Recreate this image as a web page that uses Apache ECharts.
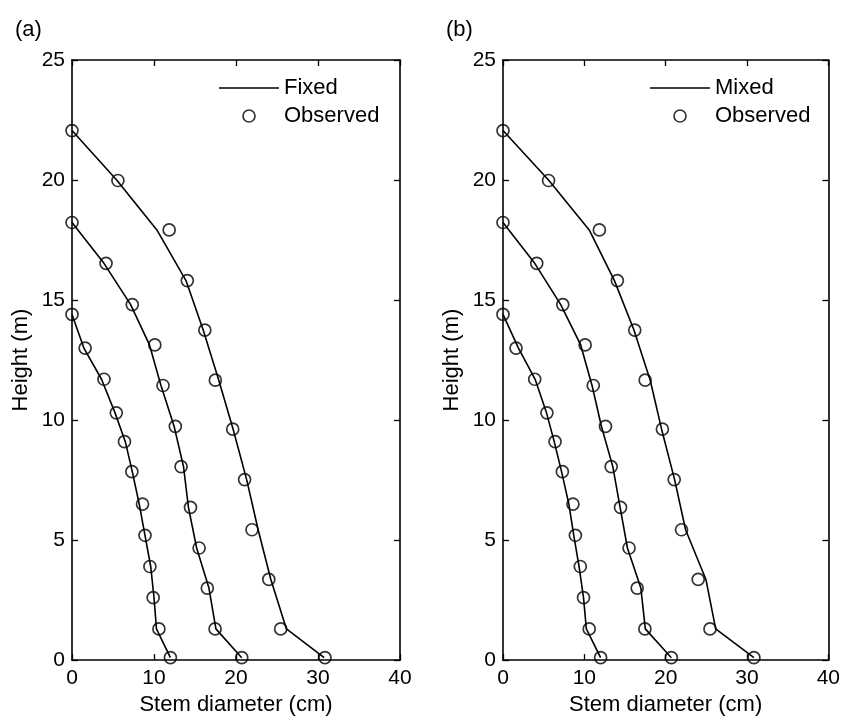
<!DOCTYPE html>
<html>
<head>
<meta charset="utf-8">
<script src="https://cdn.jsdelivr.net/npm/echarts@6/dist/echarts.min.js"></script>
<style>html,body{margin:0;padding:0;background:#fff;}#c{width:843px;height:721px;}</style>
</head>
<body>
<div id="c"></div>
<script>
// Heights (m) of measurement points for each tree
const tree1H = [0.1, 1.3, 2.6, 3.9, 5.2, 6.5, 7.85, 9.1, 10.3, 11.7, 13.0, 14.4];
const tree2H = [0.1, 1.3, 3.0, 4.67, 6.36, 8.06, 9.74, 11.44, 13.13, 14.81, 16.53, 18.23];
const tree3H = [0.1, 1.3, 3.36, 5.43, 7.52, 9.62, 11.66, 13.75, 15.81, 17.92, 19.98, 22.06];

// Observed stem diameters (cm)
const tree1Obs = [12.0, 10.6, 9.9, 9.5, 8.9, 8.6, 7.3, 6.4, 5.4, 3.9, 1.6, 0];
const tree2Obs = [20.7, 17.45, 16.5, 15.5, 14.45, 13.3, 12.6, 11.1, 10.1, 7.35, 4.15, 0];
const tree3Obs = [30.85, 25.45, 24.0, 21.95, 21.05, 19.6, 17.48, 16.2, 14.06, 11.85, 5.6, 0];

// Fixed model predictions (cm)
const tree1Fixed = [12.0, 10.3, 10.0, 9.6, 8.9, 8.2, 7.35, 6.5, 5.25, 3.6, 1.45, 0];
const tree2Fixed = [20.7, 17.55, 16.7, 15.2, 14.2, 13.6, 12.45, 10.85, 9.45, 7.15, 3.9, 0];
const tree3Fixed = [30.75, 26.15, 24.25, 22.7, 21.3, 19.65, 17.9, 16.0, 13.9, 10.35, 5.5, 0];

// Mixed model predictions (cm)
const tree1Mixed = [12.0, 10.25, 9.9, 9.35, 8.7, 8.1, 7.2, 6.3, 5.35, 3.95, 1.9, 0];
const tree2Mixed = [20.7, 17.5, 16.95, 15.3, 14.4, 13.5, 12.1, 10.95, 9.55, 7.1, 3.9, 0];
const tree3Mixed = [30.85, 26.15, 24.95, 22.45, 21.1, 19.5, 18.1, 16.1, 13.7, 10.6, 5.65, 0];

const xTicks = [0, 10, 20, 30, 40];
const yTicks = [0, 5, 10, 15, 20, 25];
const panelLabels = ['(a)', '(b)'];
const modelNames = ['Fixed', 'Mixed'];
const xName = 'Stem diameter (cm)';
const yName = 'Height (m)';

const zip = (xs, hs) => xs.map((x, i) => [x, hs[i]]);
const FONT = '"Liberation Sans", Arial, sans-serif';

const grids = [
  { left: 72, right: 443, top: 60, bottom: 58 },
  { left: 503, right: 12, top: 60, bottom: 58 }
];

const axisLine = { show: true, onZero: false, lineStyle: { color: '#000', width: 1.6 } };
const axisTick = { show: true, inside: true, length: 6, lineStyle: { color: '#000', width: 1.3 } };

const xAxes = [], yAxes = [];
grids.forEach((g, gi) => {
  xAxes.push({
    type: 'value', gridIndex: gi, position: 'bottom',
    min: xTicks[0], max: xTicks[xTicks.length - 1], interval: 10,
    name: xName, nameLocation: 'middle', nameGap: 33,
    nameTextStyle: { fontFamily: FONT, fontSize: 22, color: '#000' },
    axisLine, axisTick, splitLine: { show: false },
    axisLabel: { fontFamily: FONT, fontSize: 21, color: '#000', margin: 8 }
  });
  xAxes.push({
    type: 'value', gridIndex: gi, position: 'top',
    min: xTicks[0], max: xTicks[xTicks.length - 1], interval: 10,
    axisLine, axisTick, splitLine: { show: false }, axisLabel: { show: false }
  });
  yAxes.push({
    type: 'value', gridIndex: gi, position: 'left',
    min: yTicks[0], max: yTicks[yTicks.length - 1], interval: 5,
    name: yName, nameLocation: 'middle', nameGap: 40, nameRotate: 90,
    nameTextStyle: { fontFamily: FONT, fontSize: 22, color: '#000' },
    axisLine, axisTick, splitLine: { show: false },
    axisLabel: { fontFamily: FONT, fontSize: 21, color: '#000', margin: 7 }
  });
  yAxes.push({
    type: 'value', gridIndex: gi, position: 'right',
    min: yTicks[0], max: yTicks[yTicks.length - 1], interval: 5,
    axisLine, axisTick, splitLine: { show: false }, axisLabel: { show: false }
  });
});

const modelData = [
  [tree1Fixed, tree2Fixed, tree3Fixed],
  [tree1Mixed, tree2Mixed, tree3Mixed]
];
const obsData = [tree1Obs, tree2Obs, tree3Obs];
const heights = [tree1H, tree2H, tree3H];

const series = [];
grids.forEach((g, gi) => {
  modelData[gi].forEach((xs, ti) => {
    series.push({
      type: 'line', name: modelNames[gi],
      xAxisIndex: gi * 2, yAxisIndex: gi * 2,
      data: zip(xs, heights[ti]),
      symbol: 'none', showSymbol: false, silent: true, clip: false,
      lineStyle: { color: '#000', width: 1.6 },
      itemStyle: { color: '#000' }
    });
  });
  series.push({
    type: 'scatter', name: 'Observed',
    xAxisIndex: gi * 2, yAxisIndex: gi * 2,
    data: [].concat(...obsData.map((xs, ti) => zip(xs, heights[ti]))),
    symbol: 'circle', symbolSize: 12, clip: false, silent: true,
    itemStyle: { color: 'rgba(255,255,255,0)', borderColor: '#000', borderWidth: 1.7 }
  });
});

const lineIcon = 'path://M0,0H40V1H0Z';

const legendBase = {
  orient: 'vertical', itemWidth: 60, itemHeight: 12, itemGap: 6,
  selectedMode: false,
  textStyle: { fontFamily: FONT, fontSize: 22, color: '#000', lineHeight: 22 }
};

const obsLegendStyle = { color: 'rgba(255,255,255,0)', borderColor: '#000', borderWidth: 1.7 };

const option = {
  backgroundColor: '#fff',
  animation: false,
  title: [
    { text: panelLabels[0], left: 10, top: 14, textStyle: { fontFamily: FONT, fontSize: 22, fontWeight: 'normal', color: '#000' } },
    { text: panelLabels[1], left: 441, top: 14, textStyle: { fontFamily: FONT, fontSize: 22, fontWeight: 'normal', color: '#000' } }
  ],
  grid: grids,
  xAxis: xAxes,
  yAxis: yAxes,
  legend: [
    Object.assign({}, legendBase, { left: 214, top: 72, data: [
      { name: modelNames[0], icon: lineIcon, itemStyle: { color: '#000' } },
      { name: 'Observed', icon: 'circle', itemStyle: obsLegendStyle }
    ] }),
    Object.assign({}, legendBase, { left: 645, top: 72, data: [
      { name: modelNames[1], icon: lineIcon, itemStyle: { color: '#000' } },
      { name: 'Observed', icon: 'circle', itemStyle: obsLegendStyle }
    ] })
  ],
  series
};

const chart = echarts.init(document.getElementById('c'), null, { renderer: 'canvas' });
chart.setOption(option);
</script>
</body>
</html>
